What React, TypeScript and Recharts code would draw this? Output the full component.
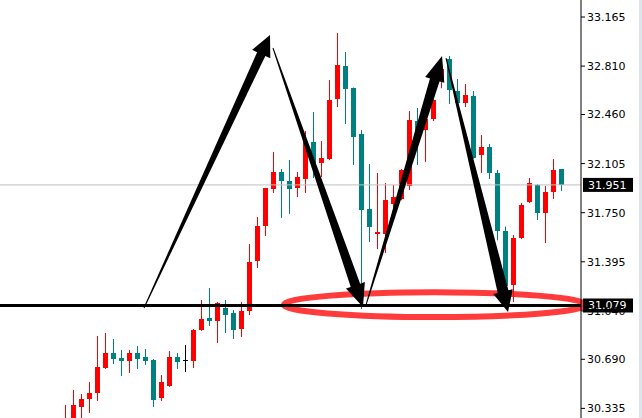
import { Bar, ComposedChart, ReferenceArea, ReferenceLine, XAxis, YAxis } from "recharts";

// OHLC per bar, oldest first
const opens = [
  30.18, 30.25, 30.345, 30.403, 30.446, 30.627, 30.736, 30.699, 30.678, 30.736,
  30.707, 30.685, 30.41, 30.497, 30.707, 30.685, 30.678, 30.902, 30.988, 30.967,
  31.061, 31.025, 30.909, 31.039, 31.401, 31.654, 31.921, 32.044, 31.979, 31.929,
  31.994, 32.261, 32.109, 32.138, 32.572, 32.811, 32.652, 32.319, 31.777, 31.596,
  31.596, 31.813, 31.849, 31.943, 32.413, 32.348, 32.427, 32.72, 32.861, 32.63,
  32.543, 32.594, 32.167, 32.225, 32.037, 31.618, 31.227, 31.567, 31.827, 31.95,
  31.748, 31.9, 32.066,
];
const highs = [
  30.36, 30.468, 30.439, 30.526, 30.858, 30.88, 30.837, 30.757, 30.757, 30.786,
  30.764, 30.692, 30.576, 30.75, 30.736, 30.793, 30.909, 31.119, 31.205, 31.104,
  31.119, 31.046, 31.104, 31.524, 31.719, 31.929, 32.189, 32.066, 32.131, 32.044,
  32.341, 32.478, 32.268, 32.709, 33.049, 32.912, 32.655, 32.348, 32.102, 32.037,
  31.965, 31.95, 32.066, 32.485, 32.507, 32.43, 32.57, 32.8, 32.883, 32.717,
  32.681, 32.63, 32.312, 32.247, 32.059, 31.65, 31.589, 31.82, 32.001, 31.957,
  31.943, 32.138, 32.066,
];
const lows = [
  30.14, 30.22, 30.26, 30.302, 30.388, 30.62, 30.656, 30.569, 30.591, 30.62,
  30.649, 30.345, 30.388, 30.49, 30.62, 30.598, 30.627, 30.895, 30.931, 30.808,
  30.88, 30.837, 30.851, 31.01, 31.35, 31.581, 31.892, 31.712, 31.741, 31.863,
  31.892, 32.001, 32.008, 32.13, 32.514, 32.391, 32.095, 31.054, 31.538, 31.487,
  31.459, 31.73, 31.84, 31.914, 32.095, 32.117, 32.413, 32.65, 32.536, 32.536,
  32.514, 32.14, 32.037, 31.994, 31.55, 31.16, 31.104, 31.56, 31.82, 31.697,
  31.531, 31.849, 31.907,
];
const closes = [
  30.24, 30.36, 30.403, 30.446, 30.634, 30.736, 30.692, 30.678, 30.736, 30.692,
  30.678, 30.396, 30.526, 30.707, 30.67, 30.685, 30.905, 30.981, 30.967, 31.097,
  31.01, 30.902, 31.039, 31.393, 31.654, 31.925, 32.044, 31.979, 31.921, 32.008,
  32.261, 32.088, 32.146, 32.565, 32.818, 32.644, 32.297, 31.77, 31.647, 31.61,
  31.842, 31.863, 32.062, 32.42, 32.276, 32.427, 32.565, 32.79, 32.637, 32.543,
  32.601, 32.145, 32.225, 32.037, 31.618, 31.22, 31.567, 31.806, 31.965, 31.748,
  31.9, 32.059, 31.951,
];

const priceTicks = [33.165, 32.81, 32.46, 32.105, 31.75, 31.395, 31.04, 30.69, 30.335];
const lastPrice = 31.951;
const supportLevel = 31.079;

// hand-drawn arrows: tail (bar index, price) -> tip (bar index, price)
const arrowTails = [
  { x: 9.84, y: 31.061 },
  { x: 25.96, y: 32.941 },
  { x: 37.59, y: 31.083 },
  { x: 47.59, y: 32.868 },
];
const arrowTips = [
  { x: 25.59, y: 33.035 },
  { x: 37.21, y: 31.068 },
  { x: 47.09, y: 32.883 },
  { x: 55.34, y: 31.032 },
];
const arrowShaft = [9, 10, 10, 11];
const arrowHead = [21, 23, 25, 21];

// ring around the double bottom
const ringBars = [27.3, 65.0];
const ringPrices = [30.995, 31.175];

const candles = opens.map((open, i) => ({
  i,
  open,
  high: highs[i],
  low: lows[i],
  close: closes[i],
  range: [lows[i], highs[i]],
}));

const UP = "#ff0000";
const DOWN = "#008080";
const FONT = "'DejaVu Sans', Tahoma, sans-serif";

function Candle(props: any) {
  const { x, y, width, height, payload } = props;
  const { open, close, high, low } = payload;
  const top = Math.min(y, y + height);
  const span = Math.abs(height);
  const toY = (v: number) => top + ((high - v) / (high - low)) * span;
  const color = close > open ? UP : close < open ? DOWN : "#000000";
  const c = Math.floor(x + width / 2);
  const bodyTop = Math.round(toY(Math.max(open, close)));
  const bodyBottom = Math.round(toY(Math.min(open, close)));
  return (
    <g>
      <line x1={c + 0.5} x2={c + 0.5} y1={top} y2={top + span} stroke={color} strokeWidth={1} />
      {open === close ? (
        <line x1={c - 2} x2={c + 3} y1={bodyTop + 0.5} y2={bodyTop + 0.5} stroke={color} />
      ) : (
        <rect x={c - 2} y={bodyTop} width={5} height={Math.max(1, bodyBottom - bodyTop)} fill={color} />
      )}
    </g>
  );
}

function arrowShape(shaft: number, head: number) {
  return (props: any) => {
    const { x1, y1, x2, y2 } = props;
    const len = Math.hypot(x2 - x1, y2 - y1);
    const ux = (x2 - x1) / len;
    const uy = (y2 - y1) / len;
    const nx = -uy;
    const ny = ux;
    const bx = x2 - ux * head;
    const by = y2 - uy * head;
    const hw = 10;
    const pts = [
      [x1 + nx * 0.5, y1 + ny * 0.5],
      [bx + (nx * shaft) / 2, by + (ny * shaft) / 2],
      [bx + nx * hw, by + ny * hw],
      [x2, y2],
      [bx - nx * hw, by - ny * hw],
      [bx - (nx * shaft) / 2, by - (ny * shaft) / 2],
      [x1 - nx * 0.5, y1 - ny * 0.5],
    ];
    return <polygon points={pts.map((p) => p.join(",")).join(" ")} fill="#000" />;
  };
}

function PriceTag(props: any) {
  const { viewBox, text } = props;
  const left = viewBox.x + viewBox.width + 2;
  const cy = viewBox.y;
  return (
    <g>
      <rect x={left} y={cy - 7} width={50} height={14} fill="#000" />
      <text x={left + 5} y={cy} dy="0.36em" fill="#fff" fontSize={11} fontFamily={FONT}>
        {text}
      </text>
    </g>
  );
}

function Ring(props: any) {
  const { x, y, width, height } = props;
  return (
    <ellipse
      cx={x + width / 2}
      cy={y + height / 2}
      rx={width / 2}
      ry={height / 2}
      fill="none"
      stroke="#ff3b3b"
      strokeWidth={6}
    />
  );
}

export default function App() {
  return (
    <div style={{ position: "absolute", left: 0, top: 0, width: 642, height: 418, background: "#fff" }}>
      <ComposedChart
        width={642}
        height={418}
        data={candles}
        margin={{ top: 0, right: 0, bottom: 0, left: 0 }}
      >
        <XAxis dataKey="i" type="number" domain={[-8.16, 64.46]} hide allowDataOverflow />
        <YAxis
          orientation="right"
          width={61}
          domain={[30.2655, 33.288]}
          allowDataOverflow
          ticks={priceTicks}
          interval={0}
          tickFormatter={(v: number) => v.toFixed(3)}
          axisLine={{ stroke: "#000" }}
          tickLine={{ stroke: "#000" }}
          tickSize={4}
          tickMargin={2}
          tick={{ fill: "#000", fontSize: 11, fontFamily: FONT }}
        />
        <ReferenceLine
          y={lastPrice}
          stroke="#c0c0c0"
          strokeWidth={1}
          label={<PriceTag text={lastPrice.toFixed(3)} />}
        />
        <Bar dataKey="range" barSize={5} shape={Candle} isAnimationActive={false} />
        <ReferenceLine
          y={supportLevel}
          stroke="#000"
          strokeWidth={3}
          label={<PriceTag text={supportLevel.toFixed(3)} />}
        />
        {arrowTails.map((tail, n) => (
          <ReferenceLine
            key={n}
            segment={[tail, arrowTips[n]]}
            ifOverflow="visible"
            shape={arrowShape(arrowShaft[n], arrowHead[n])}
          />
        ))}
        <ReferenceArea
          x1={ringBars[0]}
          x2={ringBars[1]}
          y1={ringPrices[0]}
          y2={ringPrices[1]}
          ifOverflow="visible"
          shape={Ring}
        />
      </ComposedChart>
      <div style={{ position: "absolute", left: 639, top: 0, width: 3, height: 418, background: "#dde4ec" }} />
    </div>
  );
}
